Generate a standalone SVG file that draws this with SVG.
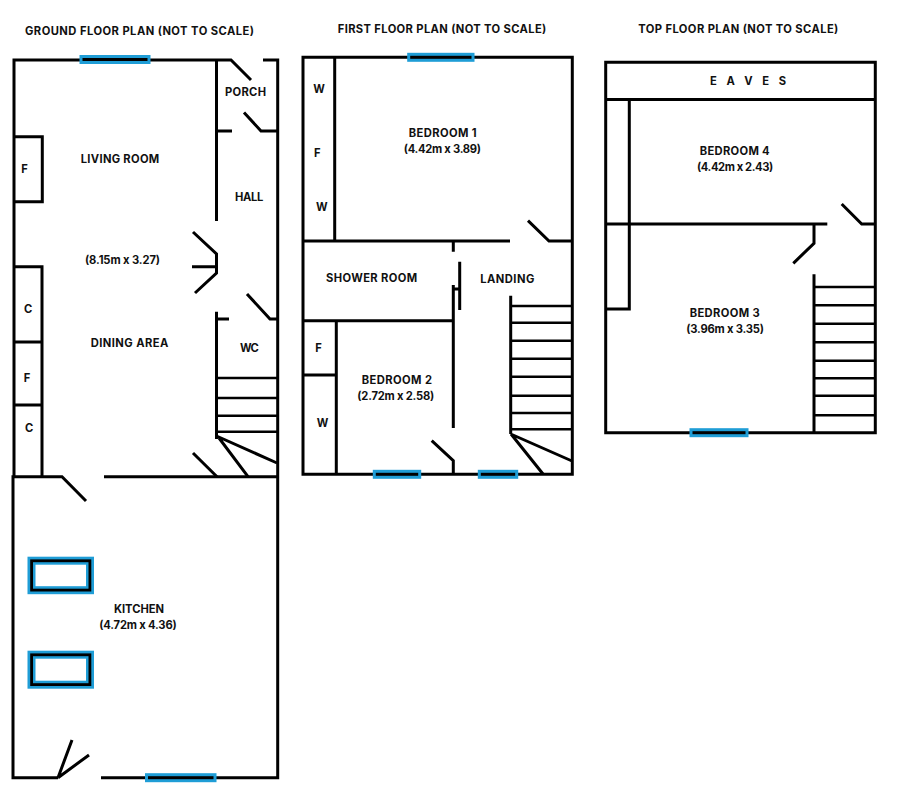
<svg xmlns="http://www.w3.org/2000/svg" width="900" height="800" viewBox="0 0 900 800">
<style>
.w{fill:none;stroke:#000;stroke-width:3;stroke-linecap:butt;stroke-linejoin:miter}
.t{fill:none;stroke:#000;stroke-width:2.6}
.g{fill:#1f9dd6}
.k{fill:#000}
.o{fill:#fff}
text{font-family:Inter,"Liberation Sans",sans-serif;font-weight:700;font-size:11.2px;fill:#111}
</style>
<rect width="900" height="800" fill="#fff"/>
<g id="ground-floor">
<path class="w" d="M14 476.7V60H231L251 80M263 60H277.7V777.7H101M58 777.7H13V476.7H62L86 501M104 476.7H278"/>
<path class="w" d="M216.5 60V221M216.5 131H232M244 112.5L261 131H278M14 136.7H42.3V201.7H14"/>
<path class="w" d="M193 232L216.5 254V273L195 293M192 266.7H216.5M42 476.7V266.7H14M14 342H42M14 405H42"/>
<path class="w" d="M216.5 311.7V439M216.5 319H229M247 294L270 319H278M193 453L217 476.7"/>
<path class="t" d="M216 378H278M216 398H278M216 415.7H278M216 431.7H278"/>
<path class="w" d="M216.5 436L277 463M219 438L248 476.7M58 777.7L72 740M58 777.7L89 755"/>
<g id="windows-ground">
<rect class="g" x="79.5" y="55" width="71" height="9"/><rect class="k" x="82.5" y="58" width="65" height="3"/>
<rect class="g" x="145" y="773.2" width="71.5" height="9"/><rect class="k" x="148" y="776.2" width="65.5" height="3"/>
<rect class="g" x="27.5" y="556.7" width="66.5" height="37.5"/><rect class="k" x="30.2" y="559.4" width="61.1" height="32.1"/><rect class="g" x="33" y="562.2" width="55.5" height="26.5"/><rect class="o" x="35.5" y="564.7" width="50.5" height="21.5"/>
<rect class="g" x="27.5" y="650.7" width="66.5" height="38"/><rect class="k" x="30.2" y="653.4" width="61.1" height="32.6"/><rect class="g" x="33" y="656.2" width="55.5" height="27"/><rect class="o" x="35.5" y="658.7" width="50.5" height="22"/>
</g>
<text x="25" y="35" textLength="229">GROUND FLOOR PLAN (NOT TO SCALE)</text>
<text x="225" y="95.7" textLength="41">PORCH</text>
<text x="80.7" y="162.7" textLength="78.6">LIVING ROOM</text>
<text x="21.2" y="172.7">F</text>
<text x="235" y="201" textLength="28.3">HALL</text>
<text x="85" y="264" textLength="75">(8.15m x 3.27)</text>
<text x="24" y="312.7">C</text>
<text x="90.7" y="347.3" textLength="77.6">DINING AREA</text>
<text x="240" y="352.3" textLength="18.7">WC</text>
<text x="23.8" y="382">F</text>
<text x="25" y="432.3">C</text>
<text x="114" y="612.7" textLength="50">KITCHEN</text>
<text x="99.3" y="628.7" textLength="77.4">(4.72m x 4.36)</text>
</g>
<g id="first-floor">
<path class="w" d="M303 57.3H572.3V474.3H303ZM334.7 57.3V241M303 241H510M528 220.7L549 241H572M453.3 241V251.7"/>
<path class="w" d="M303 320.7H453.3M336.3 320.7V474.3M303 375H336.3M453.3 285V428M459.7 261.7V310M453.3 289H459.7M431.7 440.7L453.3 460.7V474.3"/>
<path class="w" d="M510.7 295.7V434M510.7 434L572 461M511 434L543 474"/>
<path class="t" d="M510.7 306H572M510.7 322.7H572M510.7 340.7H572M510.7 358.7H572M510.7 376.7H572M510.7 395.7H572M510.7 413H572M510.7 429.3H572"/>
<g id="windows-first">
<rect class="g" x="407.2" y="52.8" width="67.3" height="9"/><rect class="k" x="410.2" y="55.8" width="61.3" height="3"/>
<rect class="g" x="372.8" y="469.8" width="48.4" height="9"/><rect class="k" x="375.8" y="472.8" width="42.4" height="3"/>
<rect class="g" x="477.8" y="469.8" width="40.4" height="9"/><rect class="k" x="480.8" y="472.8" width="34.4" height="3"/>
</g>
<text x="337.7" y="32.7" textLength="208.6">FIRST FLOOR PLAN (NOT TO SCALE)</text>
<text x="313.3" y="93" textLength="11">W</text>
<text x="314" y="157">F</text>
<text x="316" y="211" textLength="11">W</text>
<text x="408.7" y="137.3" textLength="68">BEDROOM 1</text>
<text x="403.7" y="153" textLength="77.3">(4.42m x 3.89)</text>
<text x="326" y="282" textLength="91.3">SHOWER ROOM</text>
<text x="480.3" y="283.3" textLength="54">LANDING</text>
<text x="315.2" y="352">F</text>
<text x="316.7" y="426.7" textLength="10.6">W</text>
<text x="361.7" y="384.3" textLength="70.3">BEDROOM 2</text>
<text x="357.3" y="400" textLength="77">(2.72m x 2.58)</text>
</g>
<g id="top-floor">
<path class="w" d="M605.7 62.3H875.3V432.8H605.7ZM605.7 99.6H875.3M629.3 99.6V309H605.7M605.7 224H827.3M841.7 204L861.7 224H875.3M814 224V243.3L793.3 263.3M814 274.3V432.8"/>
<path class="t" d="M814 287H875M814 305.3H875M814 323.7H875M814 342.3H875M814 360.7H875M814 378.3H875M814 395.7H875M814 415.3H875"/>
<g id="windows-top">
<rect class="g" x="689.5" y="428.2" width="59" height="9"/><rect class="k" x="692.5" y="431.2" width="53" height="3"/>
</g>
<text x="638.3" y="33.3" textLength="200">TOP FLOOR PLAN (NOT TO SCALE)</text>
<text x="710" y="85.3" textLength="76" xml:space="preserve">E A V E S</text>
<text x="699.7" y="154.7" textLength="70">BEDROOM 4</text>
<text x="697" y="170.7" textLength="76.3">(4.42m x 2.43)</text>
<text x="689.7" y="317" textLength="70">BEDROOM 3</text>
<text x="686.3" y="332.7" textLength="77.7">(3.96m x 3.35)</text>
</g>
</svg>
